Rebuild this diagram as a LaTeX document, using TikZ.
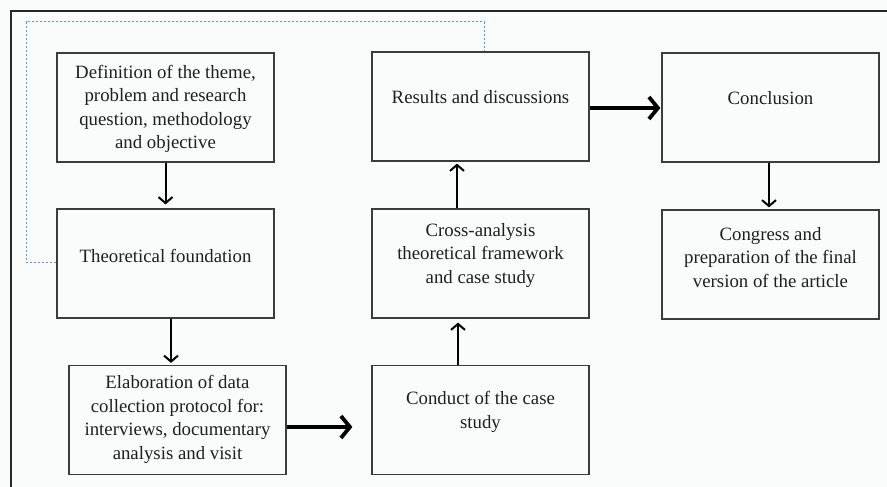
\documentclass[tikz,border=0pt]{standalone}
\usepackage{fontspec}
\setmainfont{Liberation Serif}
\usetikzlibrary{arrows.meta}
\definecolor{bgc}{RGB}{250,252,252}
\definecolor{dashc}{RGB}{95,150,215}
\definecolor{boxc}{RGB}{60,60,60}
\tikzset{
  box/.style={draw=boxc, line width=1.2pt, minimum width=217pt, minimum height=109pt, inner sep=0pt},
  txt/.style={align=center, inner sep=0pt, font=\fontsize{18.8}{23.5}\selectfont, text=black!88},
  thinarrow/.style={line width=2pt, -{Straight Barb[length=6pt,width=14pt,line width=2pt]}},
  thickarrow/.style={line width=3.8pt, -{Straight Barb[length=9pt,width=22pt,line width=3.8pt]}},
  loopline/.style={draw=dashc, line width=1pt, dash pattern=on 2.5pt off 1.5pt}
}
\begin{document}
\begin{tikzpicture}[x=1pt,y=-1pt]
\fill[bgc] (0,0) rectangle (887,487);
\useasboundingbox (0,0) rectangle (887,487);
\draw[line width=2pt, black!85] (11,487) -- (11,11) -- (887,11);

\node[box] (b1) at (165.5,107.5) {};
\node[box] (b2) at (165.5,263.5) {};
\node[box] (b3) at (177.5,420) {};
\node[box] (b4) at (480.5,420) {};
\node[box] (b5) at (480.5,263.5) {};
\node[box] (b6) at (480.5,106.5) {};
\node[box] (b7) at (770.5,107.5) {};
\node[box] (b8) at (770.5,264.5) {};

\node[txt] (t1) at (165.5,109) {Definition of the theme,\\problem and research\\question, methodology\\and objective};
\node[txt] (t2) at (165.5,255.5) {Theoretical foundation};
\node[txt] (t3) at (177.5,419.5) {Elaboration of data\\collection protocol for:\\interviews, documentary\\analysis and visit};
\node[txt] (t4) at (480.5,412) {Conduct of the case\\study};
\node[txt] (t5) at (480.5,255.5) {Cross-analysis\\theoretical framework\\and case study};
\node[txt] (t6) at (480.5,97.5) {Results and discussions};
\node[txt] (t7) at (770.5,98.5) {Conclusion};
\node[txt] (t8) at (770.5,257.5) {Congress and\\preparation of the final\\version of the article};

\coordinate (c1) at (26,22);

\draw[loopline] ([yshift=1.5pt]b2.west) -| (c1) -| ([xshift=3.5pt]b6.north);

\draw[thinarrow, shorten >=4pt] (b1.south) -- (b2.north);
\draw[thinarrow, shorten >=2pt] ([xshift=5.5pt]b2.south) -- ([xshift=-6.5pt]b3.north);
\draw[thickarrow, shorten >=19pt] ([yshift=-7pt]b3.east) -- ([yshift=-7pt]b4.west);
\draw[thinarrow, shorten >=4pt] ([xshift=-22.5pt]b4.north) -- ([xshift=-22.5pt]b5.south);
\draw[thinarrow, shorten >=2pt] ([xshift=-23.5pt]b5.north) -- ([xshift=-23.5pt]b6.south);
\draw[thickarrow, shorten >=1pt] ([yshift=-1.5pt]b6.east) -- ([yshift=-0.5pt]b7.west);
\draw[thinarrow, shorten >=2pt] ([xshift=-1.5pt]b7.south) -- ([xshift=-1.5pt]b8.north);
\end{tikzpicture}
\end{document}
